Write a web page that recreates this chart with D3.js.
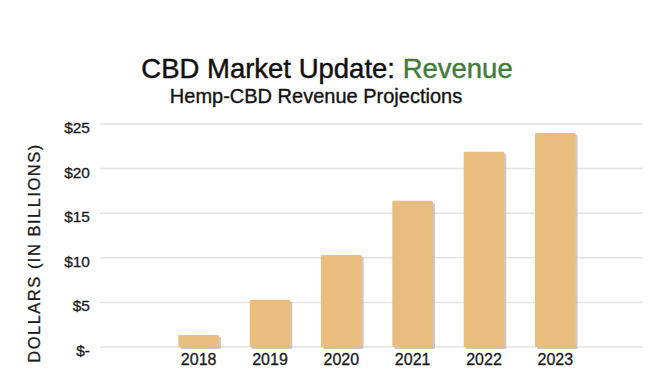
<!DOCTYPE html>
<html><head><meta charset="utf-8">
<script src="https://cdn.jsdelivr.net/npm/d3@7"></script>
<style>body{margin:0;background:#fff}svg{display:block}</style>
</head><body>
<svg id="c" width="655" height="368"></svg>
<script>
const categories = ["2018","2019","2020","2021","2022","2023"];
const revenue = [1.35, 5.3, 10.3, 16.4, 21.9, 24.0];
const yTicks = [0,5,10,15,20,25];
const yTickLabels = ["$-","$5","$10","$15","$20","$25"];

const svg = d3.select("#c");
const font = "'Liberation Sans', Arial, Helvetica, sans-serif";

const x = d3.scaleBand().domain(categories).range([163, 591]).paddingInner(0.43).paddingOuter(0.215);
const y = d3.scaleLinear().domain([0,25]).range([347,124]);

// gridlines
svg.append("g").selectAll("line").data(yTicks).join("line")
  .attr("x1",100).attr("x2",643)
  .attr("y1",d=>y(d)).attr("y2",d=>y(d))
  .attr("stroke","#e4e4e4").attr("stroke-width",1.5);

// y tick labels
svg.append("g").selectAll("text").data(yTicks).join("text")
  .attr("x",90).attr("y",d=>y(d)+9)
  .attr("text-anchor","end")
  .attr("font-family",font).attr("font-size",15.5).attr("fill","#1a1a1a")
  .attr("stroke","#1a1a1a").attr("stroke-width",0.3)
  .text((d,i)=>yTickLabels[i]);

// bar shadows
svg.append("g").selectAll("rect").data(revenue).join("rect")
  .attr("x",(d,i)=>x(categories[i])+2)
  .attr("y",d=>y(d)+2)
  .attr("width",x.bandwidth())
  .attr("height",d=>y(0)-y(d))
  .attr("rx",1.5)
  .attr("fill","#a89f9c").attr("opacity",0.55);

// bars
svg.append("g").selectAll("rect").data(revenue).join("rect")
  .attr("x",(d,i)=>x(categories[i]))
  .attr("y",d=>y(d))
  .attr("width",x.bandwidth())
  .attr("height",d=>y(0)-y(d))
  .attr("rx",1.5)
  .attr("fill","#e8bd7e");

// x labels
svg.append("g").selectAll("text").data(categories).join("text")
  .attr("x",d=>x(d)+x.bandwidth()/2).attr("y",365)
  .attr("text-anchor","middle")
  .attr("font-family",font).attr("font-size",16).attr("fill","#1a1a1a")
  .attr("stroke","#1a1a1a").attr("stroke-width",0.3)
  .text(d=>d);

// y axis title
svg.append("text")
  .attr("transform","translate(40,253) rotate(-90)")
  .attr("text-anchor","middle")
  .attr("font-family",font).attr("font-size",16.5).attr("letter-spacing","1.5px")
  .attr("fill","#1a1a1a").attr("stroke","#1a1a1a").attr("stroke-width",0.3)
  .text("DOLLARS (IN BILLIONS)");

// title
const t = svg.append("text").attr("x",327).attr("y",78).attr("text-anchor","middle")
  .attr("font-family",font).attr("font-size",27.5).attr("stroke-width",0.45);
t.append("tspan").attr("fill","#111").attr("stroke","#111").text("CBD Market Update: ");
t.append("tspan").attr("fill","#3f7d3b").attr("stroke","#3f7d3b").text("Revenue");

svg.append("text").attr("x",316).attr("y",103).attr("text-anchor","middle")
  .attr("font-family",font).attr("font-size",20).attr("fill","#111")
  .attr("stroke","#111").attr("stroke-width",0.35)
  .text("Hemp-CBD Revenue Projections");
</script>
</body></html>
